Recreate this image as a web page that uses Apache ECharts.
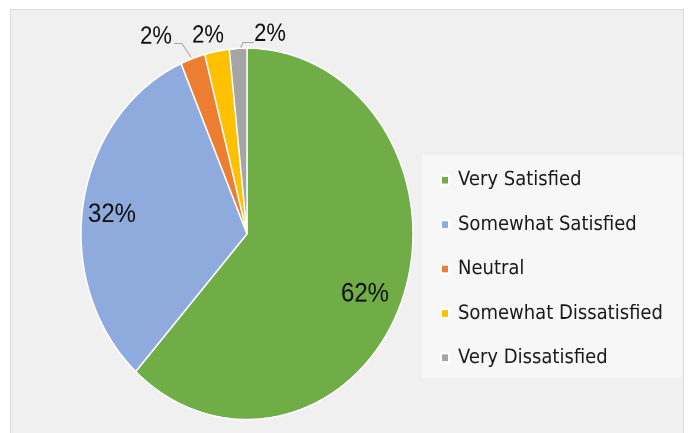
<!DOCTYPE html>
<html><head><meta charset="utf-8">
<script src="https://cdn.jsdelivr.net/npm/echarts@6/dist/echarts.min.js"></script>
<style>
html,body{margin:0;padding:0;background:#fff;width:688px;height:433px;overflow:hidden}
#frame{position:absolute;left:10px;top:9px;width:674px;height:430px;background:#f0f0f0;border:1px solid #dadada;box-sizing:border-box}
#chart{position:absolute;left:0;top:0;width:688px;height:387px;transform:scaleY(1.1189);transform-origin:0 0}
</style></head><body>
<div id="frame"></div><div id="chart"></div>
<script>
const categories = ['Very Satisfied', 'Somewhat Satisfied', 'Neutral', 'Somewhat Dissatisfied', 'Very Dissatisfied'];
const values = [61.7, 31.8, 2.4, 2.4, 1.7];
const colors = ['#70ad47', '#8faadc', '#ed7d31', '#ffc000', '#a5a5a5'];
const insideLabels = [true, true, false, false, false];

// label placement (pixels in the unscaled chart box)
const labelSpots = [
  {x: 365, y: 263},
  {x: 112, y: 192},
  {x: 156, y: 33, line: [[191, 51], [182, 39], [174, 39]]},
  {x: 208, y: 32},
  {x: 270, y: 30.5, line: [[240, 44], [243, 38], [254, 38]]}
];

const chart = echarts.init(document.getElementById('chart'), null, {renderer: 'canvas', devicePixelRatio: 2});

const data = categories.map((name, i) => {
  const item = {name: name, value: values[i], itemStyle: {color: colors[i]}};
  if (insideLabels[i]) {
    item.label = {position: 'inside', fontSize: 24, fontFamily: 'Liberation Sans', color: '#111'};
  }
  if (i === 3) item.labelLine = {show: false};
  return item;
});

chart.setOption({
  animation: false,
  backgroundColor: 'transparent',
  legend: {
    orient: 'vertical',
    left: 422,
    top: 138.5,
    backgroundColor: '#f7f7f7',
    padding: [12.5, 19, 8, 18],
    itemWidth: 8,
    itemHeight: 8,
    itemGap: 19.7,
    icon: 'rect',
    selectedMode: false,
    data: categories,
    textStyle: {fontFamily: 'DejaVu Sans', fontSize: 18, color: '#1a1a1a', lineHeight: 20, padding: [0, 0, 0, 4]}
  },
  series: [{
    type: 'pie',
    center: [247, 209],
    radius: 166,
    startAngle: 90,
    clockwise: true,
    avoidLabelOverlap: false,
    silent: true,
    itemStyle: {borderColor: '#ffffff', borderWidth: 1.5},
    label: {
      show: true,
      position: 'outside',
      fontSize: 22,
      fontFamily: 'Liberation Sans',
      color: '#111',
      formatter: p => Math.round(p.value) + '%'
    },
    labelLine: {show: true, length: 8, length2: 6, lineStyle: {color: '#a6a6a6', width: 1}},
    labelLayout: function (params) {
      const s = labelSpots[params.dataIndex];
      const out = {x: s.x, y: s.y, align: 'center', verticalAlign: 'middle'};
      if (s.line) out.labelLinePoints = s.line;
      return out;
    },
    data: data
  }]
});
</script>
</body></html>
